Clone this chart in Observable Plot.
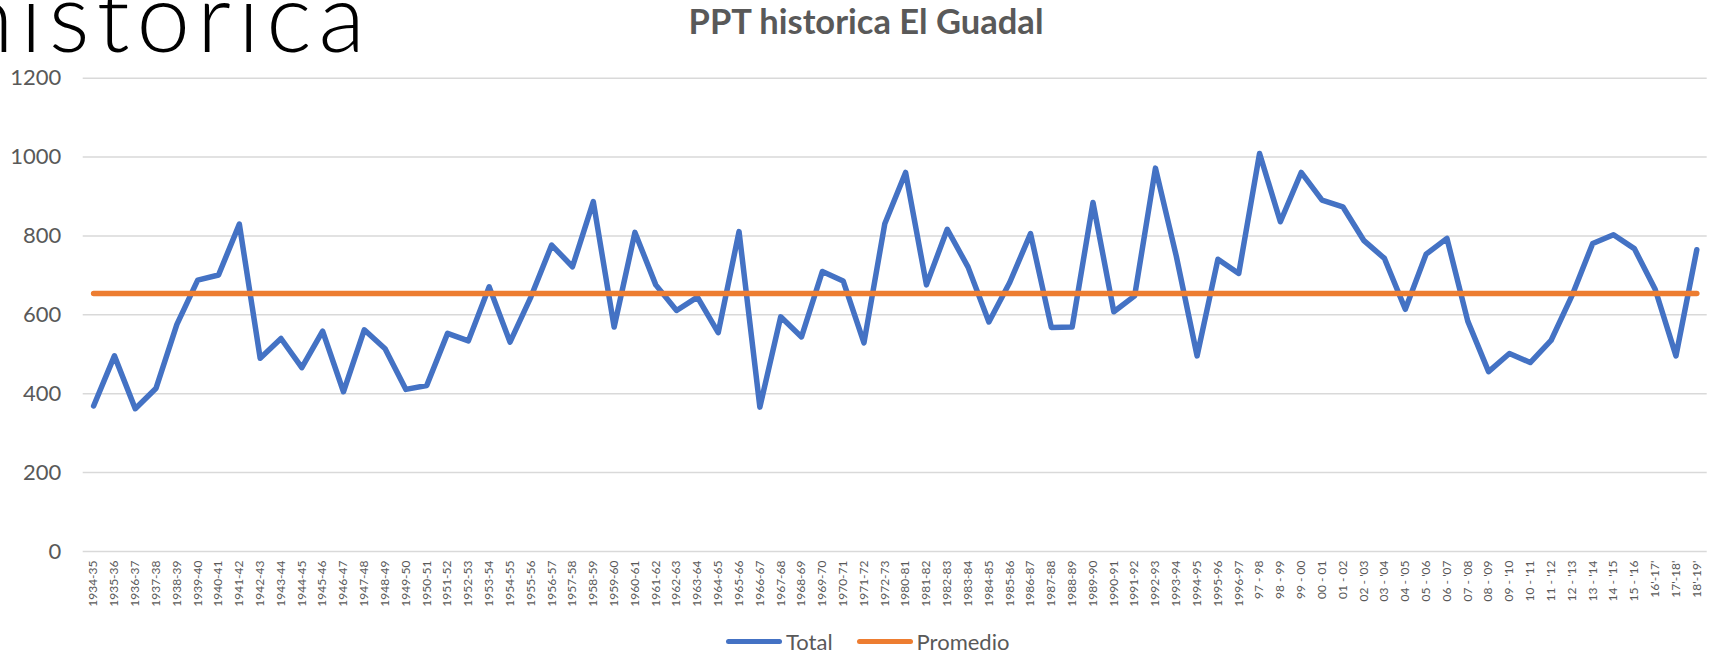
<!DOCTYPE html>
<html>
<head>
<meta charset="utf-8">
<script src="https://cdn.jsdelivr.net/npm/d3@7"></script>
<script src="https://cdn.jsdelivr.net/npm/@observablehq/plot@0.6"></script>
<style>
  html, body { margin: 0; padding: 0; background: #fff; }
  #wrap { position: relative; width: 1709px; height: 657px; overflow: hidden; font-family: Lato, "Open Sans", sans-serif; }
  #slideBox { position: absolute; z-index: 2; left: 0; top: 0; width: 420px; height: 58px; overflow: hidden; }
  #slideTitle { position: absolute; font-family: Lato, sans-serif; font-weight: 300; font-size: 96px; letter-spacing: 7px; line-height: 0.8; color: #000; white-space: nowrap; }
  #title { position: absolute; z-index: 2; top: 0px; left: 0; width: 1732px; text-align: center; font-weight: 700; font-size: 34.5px; line-height: normal; color: #595959; white-space: nowrap; }
  #chart { position: absolute; top: 45px; left: 0; }
  #legend { position: absolute; top: 628px; left: 726px; display: flex; align-items: center; font-size: 22px; color: #595959; white-space: nowrap; }
  .sw { display: inline-block; width: 56px; height: 5.5px; border-radius: 3px; margin-right: 4px; }
</style>
</head>
<body>
<div id="wrap">
  <div id="chart"></div>
  <div id="slideBox"><div id="slideTitle">historica</div></div>
  <div id="title">PPT historica El Guadal</div>
  <div id="legend">
    <span class="sw" style="background:#4472C4"></span><span>Total</span>
    <span style="display:inline-block;width:24px"></span>
    <span class="sw" style="background:#ED7D31"></span><span>Promedio</span>
  </div>
</div>
<script>
const periods = [
  "1934-35","1935-36","1936-37","1937-38","1938-39","1939-40","1940-41","1941-42","1942-43","1943-44",
  "1944-45","1945-46","1946-47","1947-48","1948-49","1949-50","1950-51","1951-52","1952-53","1953-54",
  "1954-55","1955-56","1956-57","1957-58","1958-59","1959-60","1960-61","1961-62","1962-63","1963-64",
  "1964-65","1965-66","1966-67","1967-68","1968-69","1969-70","1970-71","1971-72","1972-73","1980-81",
  "1981-82","1982-83","1983-84","1984-85","1985-86","1986-87","1987-88","1988-89","1989-90","1990-91",
  "1991-92","1992-93","1993-94","1994-95","1995-96","1996-97","97 - 98","98 - 99","99 - 00","00 - 01",
  "01 - 02","02 - '03","03 - '04","04 - '05","05 - '06","06 - '07","07 - '08","08 - '09","09 - '10","10 - '11",
  "11 - '12","12 - '13","13 - '14","14 - '15","15 - '16","16'-17'","17'-18'","18'-19'"
];
const total = [
  369, 496, 362, 414, 576, 688, 701, 830, 490, 540,
  466, 559, 405, 562, 514, 411, 421, 553, 534, 671,
  531, 645, 777, 722, 887, 569, 809, 676, 611, 645,
  555, 811, 366, 595, 544, 710, 686, 529, 831, 961,
  676, 817, 721, 582, 682, 806, 568, 569, 885, 608,
  648, 972, 749, 496, 741, 705, 1009, 836, 961, 891,
  874, 789, 743, 614, 754, 794, 584, 456, 502, 479,
  535, 648, 781, 803, 768, 665, 496, 765
];
const promedio = 654;
const yTicks = [0, 200, 400, 600, 800, 1000, 1200];

const rows = periods.map((p, i) => ({period: p, total: total[i], promedio}));

const chart = Plot.plot({
  width: 1709,
  height: 580,
  marginTop: 32.7,
  marginBottom: 74,
  marginLeft: 82.7,
  marginRight: 2.3,
  style: {fontFamily: "Lato, 'Open Sans', sans-serif", color: "#595959", background: "transparent"},
  x: {type: "point", domain: periods, padding: 0.5},
  y: {domain: [0, 1200]},
  marks: [
    Plot.gridY(yTicks, {stroke: "#D9D9D9", strokeOpacity: 1, strokeWidth: 1.5}),
    Plot.axisY(yTicks, {tickSize: 0, tickPadding: 22, fontSize: 22, label: null, tickFormat: d => String(d)}),
    Plot.axisX({tickSize: 0, tickRotate: -90, tickPadding: 9, fontSize: 12, label: null}),
    Plot.lineY(rows, {x: "period", y: "total", stroke: "#4472C4", strokeWidth: 5.5, strokeLinejoin: "round", strokeLinecap: "round"}),
    Plot.lineY(rows, {x: "period", y: "promedio", stroke: "#ED7D31", strokeWidth: 5.5, strokeLinecap: "round"})
  ]
});
document.getElementById("chart").appendChild(chart);

// the cropped slide title: right edge at x≈365, baseline at y≈49
const st = document.getElementById("slideTitle");
const w = st.getBoundingClientRect().width;
st.style.left = (365 - w + 7) + "px";
st.style.top = "-23.5px";
</script>
</body>
</html>
